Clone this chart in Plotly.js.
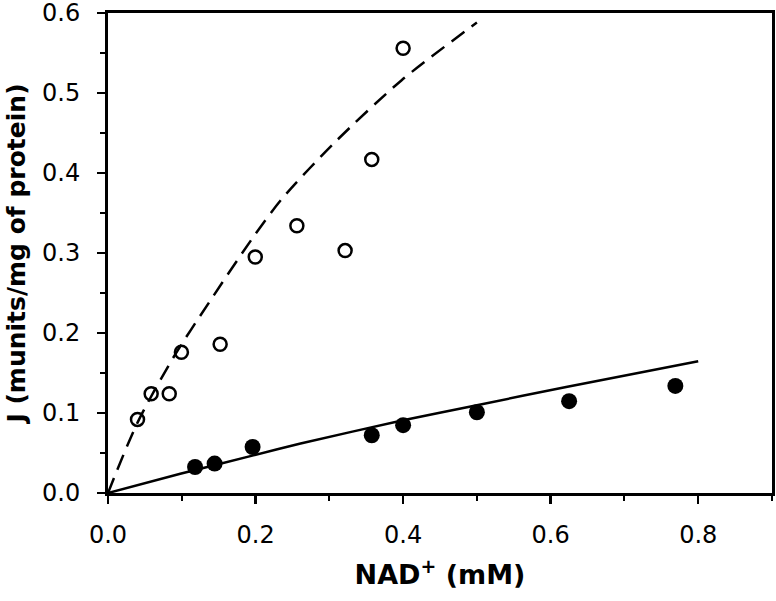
<!DOCTYPE html>
<html>
<head>
<meta charset="utf-8">
<script src="https://cdn.plot.ly/plotly-3.0.1.min.js"></script>
<style>html,body{margin:0;padding:0;background:#fff;}#chart{width:776px;height:601px;}</style>
</head>
<body>
<div id="chart"></div>
<script>
// Open circles (dashed fit)
const openX = [0.040, 0.0585, 0.083, 0.0995, 0.152, 0.1996, 0.256, 0.3214, 0.3575, 0.400];
const openY = [0.092, 0.124, 0.124, 0.176, 0.186, 0.295, 0.334, 0.303, 0.417, 0.556];
// Filled circles (solid fit)
const fillX = [0.118, 0.1445, 0.196, 0.3575, 0.400, 0.500, 0.625, 0.769];
const fillY = [0.0325, 0.0368, 0.0575, 0.0722, 0.0848, 0.1009, 0.1148, 0.1338];
// Dashed fitted curve
const dashX = [0, 0.040, 0.089, 0.139, 0.197, 0.236, 0.306, 0.398, 0.500];
const dashY = [0, 0.088, 0.170, 0.241, 0.320, 0.368, 0.437, 0.516, 0.588];
// Solid fitted curve
const solidX = [0, 0.098, 0.197, 0.261, 0.400, 0.500, 0.621, 0.800];
const solidY = [0, 0.024, 0.047, 0.0618, 0.0909, 0.1097, 0.1326, 0.1647];

const xTicks = [0.0, 0.2, 0.4, 0.6, 0.8];
const xTickText = ['0.0', '0.2', '0.4', '0.6', '0.8'];
const yTicks = [0.0, 0.1, 0.2, 0.3, 0.4, 0.5, 0.6];
const yTickText = ['0.0', '0.1', '0.2', '0.3', '0.4', '0.5', '0.6'];

const FONT = 'DejaVu Sans, Arial, sans-serif';

const traces = [
  {x: dashX, y: dashY, mode: 'lines', line: {color: '#000', width: 2.5, dash: '16px,9px', shape: 'spline', smoothing: 0.8}, hoverinfo: 'skip'},
  {x: solidX, y: solidY, mode: 'lines', line: {color: '#000', width: 2.5, shape: 'spline', smoothing: 0.6}, hoverinfo: 'skip'},
  {x: openX, y: openY, mode: 'markers', marker: {symbol: 'circle-open', size: 13, color: '#000', line: {width: 2.5, color: '#000'}}},
  {x: fillX, y: fillY, mode: 'markers', marker: {symbol: 'circle', size: 16, color: '#000'}}
];

const layout = {
  width: 776, height: 601,
  margin: {l: 108, r: 4, t: 13, b: 108},
  showlegend: false,
  paper_bgcolor: '#fff', plot_bgcolor: '#fff',
  font: {family: FONT, color: '#000'},
  xaxis: {
    range: [0, 0.9], showgrid: false, zeroline: false,
    showline: true, linewidth: 3, linecolor: '#000', mirror: true,
    ticks: 'outside', ticklen: 8, tickwidth: 2.5, tickcolor: '#000',
    tickvals: xTicks, ticktext: xTickText,
    tickfont: {family: FONT, size: 24, color: '#000'},
    ticklabelstandoff: 10, ticklabeloverflow: 'allow',
    minor: {dtick: 0.1, tick0: 0, ticks: 'outside', ticklen: 5, tickwidth: 2, tickcolor: '#000', showgrid: false},
    title: {text: '<b>NAD<sup>+</sup> (mM)</b>', font: {family: FONT, size: 27, color: '#000'}, standoff: 18}
  },
  yaxis: {
    range: [0, 0.6], showgrid: false, zeroline: false,
    showline: true, linewidth: 3, linecolor: '#000', mirror: true,
    ticks: 'outside', ticklen: 8, tickwidth: 2.5, tickcolor: '#000',
    tickvals: yTicks, ticktext: yTickText,
    tickfont: {family: FONT, size: 24, color: '#000'},
    ticklabelstandoff: 12, ticklabeloverflow: 'allow',
    minor: {dtick: 0.05, tick0: 0, ticks: 'outside', ticklen: 5, tickwidth: 2, tickcolor: '#000', showgrid: false},
    title: {text: '<b>J (munits/mg of protein)</b>', font: {family: FONT, size: 25, color: '#000'}, standoff: 10}
  }
};

Plotly.newPlot('chart', traces, layout, {displayModeBar: false, staticPlot: true});
</script>
</body>
</html>
